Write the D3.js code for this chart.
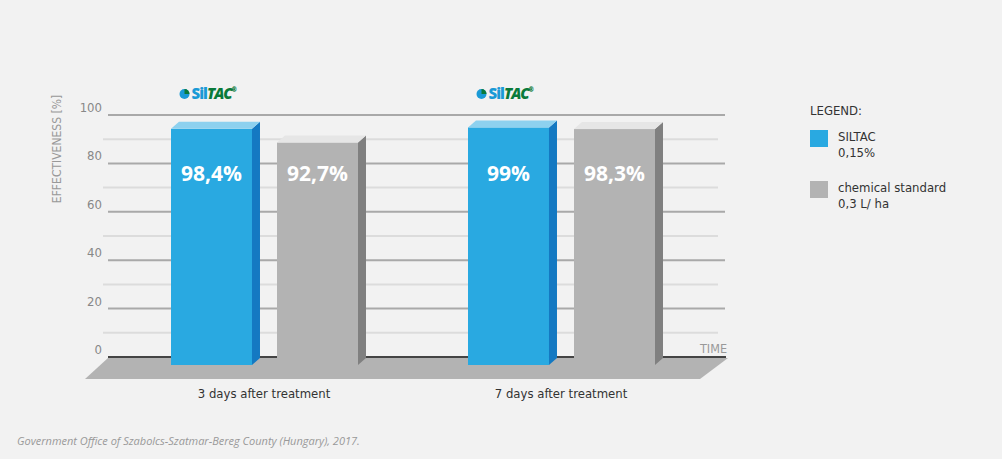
<!DOCTYPE html>
<html><head><meta charset="utf-8">
<script src="https://cdn.jsdelivr.net/npm/d3@7"></script>
<style>body{margin:0;background:#f2f2f2}</style></head>
<body><svg id="c" width="1002" height="459"></svg>
<script>
const categories = ["3 days after treatment", "7 days after treatment"];
const siltac = [98.4, 99];
const standard = [92.7, 98.3];
const valueLabels = [["98,4%", "92,7%"], ["99%", "98,3%"]];
const ticks = [0, 20, 40, 60, 80, 100];
const series = ["SILTAC|0,15%", "chemical standard|0,3 L/ ha"];

const F = "'Liberation Sans Narrow','DejaVu Sans Condensed','Roboto',sans-serif";
const svg = d3.select("#c");
svg.append("rect").attr("width",1002).attr("height",459).attr("fill","#f2f2f2");

const y = d3.scaleLinear().domain([0,100]).range([357,115]);
const yBar = d3.scaleLinear().domain([0,100]).range([365,125]);
const x0 = d3.scaleBand().domain(categories).range([171,765]);
const x1 = d3.scaleBand().domain([0,1]).range([0,187]).paddingInner(0.236);

const minors = d3.range(10,100,20);
svg.selectAll(".mg").data(minors).join("line")
 .attr("x1",103).attr("x2",718).attr("y1",d=>y(d)).attr("y2",d=>y(d))
 .attr("stroke","#dcdcdc").attr("stroke-width",2);
svg.selectAll(".Mg").data(ticks.filter(t=>t>0)).join("line")
 .attr("x1",108).attr("x2",725).attr("y1",d=>y(d)).attr("y2",d=>y(d))
 .attr("stroke","#a9a9a9").attr("stroke-width",2);
svg.selectAll(".tl").data(ticks).join("text")
 .attr("x",102).attr("y",d=>y(d)-3).attr("text-anchor","end")
 .attr("font-family",F).attr("font-size",13).attr("fill","#888").text(d=>d);
svg.append("text").attr("transform","translate(61,149) rotate(-90)").attr("text-anchor","middle")
 .attr("font-family",F).attr("font-size",12).attr("fill","#999").text("EFFECTIVENESS [%]");
svg.append("path").attr("d","M108,358 L728,358 L700,379 L85,379 Z").attr("fill","#b3b3b3");
svg.append("line").attr("x1",108).attr("x2",726).attr("y1",357).attr("y2",357).attr("stroke","#444").attr("stroke-width",2);
svg.append("text").attr("x",727).attr("y",353).attr("text-anchor","end").attr("font-family",F)
 .attr("font-size",12.5).attr("fill","#999").text("TIME");

const cols = [{f:"#29a9e1",s:"#1479c2",t:"#8dd1ef"},{f:"#b3b3b3",s:"#808080",t:"#e6e6e6"}];
categories.forEach((c,i)=>{
  const vals=[siltac[i],standard[i]];
  const gx = x0(c);
  vals.forEach((v,j)=>{
    const bx=gx+x1(j), bw=x1.bandwidth(), top=yBar(v), bot=365, d=8;
    const g=svg.append("g");
    g.append("rect").attr("x",bx).attr("y",top).attr("width",bw).attr("height",bot-top).attr("fill",cols[j].f);
    g.append("path").attr("d",`M${bx+bw},${top} L${bx+bw+d},${top-7} L${bx+bw+d},${bot-7} L${bx+bw},${bot} Z`).attr("fill",cols[j].s);
    g.append("path").attr("d",`M${bx},${top} L${bx+d},${top-7} L${bx+bw+d},${top-7} L${bx+bw},${top} Z`).attr("fill",cols[j].t);
    g.append("text").attr("x",bx+bw/2).attr("y",181).attr("text-anchor","middle")
     .attr("font-family","'Open Sans',sans-serif").attr("font-weight",700).attr("font-size",21).attr("fill","#fff").text(valueLabels[i][j]);
  });
  const lx=gx+x1(0)+x1.bandwidth()/2;
  svg.append("text").attr("x",gx+93).attr("y",398).attr("text-anchor","middle")
   .attr("font-family",F).attr("font-size",13).attr("fill","#333").text(c);
  const lg=svg.append("g").attr("transform",`translate(${lx-32},94)`);
  lg.append("circle").attr("cx",5).attr("cy",0).attr("r",5).attr("fill","#1a9ad6");
  lg.append("path").attr("d","M5,-5 A5,5 0 0 1 10,0 L5,0 Z").attr("fill","#0a7a3a");
  const t=lg.append("text").attr("x",12).attr("y",5).attr("font-family","'Open Sans',sans-serif").attr("font-weight",800).attr("font-size",15).attr("letter-spacing",-1);
  t.append("tspan").attr("fill","#1a9ad6").text("Sil");
  t.append("tspan").attr("fill","#0a7a3a").attr("font-style","italic").text("TAC");
  t.append("tspan").attr("fill","#0a7a3a").attr("font-size",6).attr("dy",-7).text("®");
});

svg.append("text").attr("x",810).attr("y",115).attr("font-family",F).attr("font-size",13).attr("fill","#333").text("LEGEND:");
series.forEach((s,k)=>{
  const yy=130+k*51;
  svg.append("rect").attr("x",810).attr("y",yy).attr("width",18).attr("height",17).attr("fill",cols[k].f);
  s.split("|").forEach((ln,m)=>svg.append("text").attr("x",838).attr("y",yy+11+m*16)
    .attr("font-family",F).attr("font-size",13).attr("fill","#333").text(ln));
});
svg.append("text").attr("x",17).attr("y",445).attr("font-family","'Open Sans',sans-serif").attr("font-style","italic")
 .attr("font-size",11).attr("fill","#999").text("Government Office of Szabolcs-Szatmar-Bereg County (Hungary), 2017.");
</script></body></html>
